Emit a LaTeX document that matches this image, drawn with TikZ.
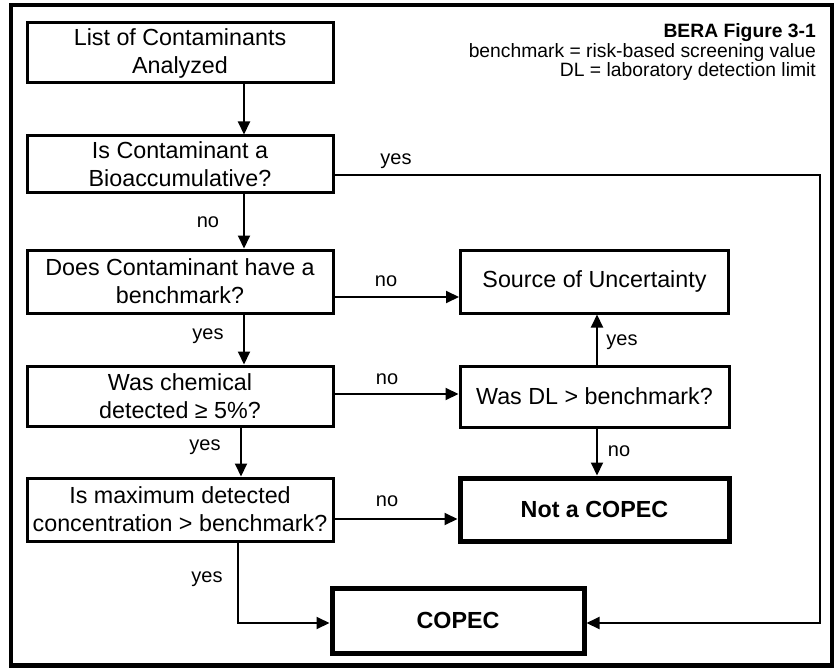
\documentclass[tikz,border=0pt]{standalone}
\usepackage{fontspec}
\setmainfont{Liberation Sans}
\usetikzlibrary{arrows.meta}
\begin{document}
\begin{tikzpicture}[x=1pt,y=-1pt,
  box/.style={draw, line width=3pt, align=center, inner sep=0pt,
    font=\fontsize{23.3}{28}\selectfont},
  endbox/.style={box, line width=5pt, font=\fontsize{23.3}{28}\selectfont\bfseries},
  arr/.style={line width=2pt, -{Triangle[length=13pt,width=12pt]}},
  lbl/.style={inner sep=0pt, font=\fontsize{20}{24}\selectfont},
  leg/.style={inner sep=0pt, anchor=base east, font=\fontsize{19.3}{22}\selectfont},
]
\useasboundingbox (0,0) rectangle (840,671);
\draw[line width=4.5pt] (11,5) rectangle (832,665.5);

% boxes
\node[box, minimum width=306pt, minimum height=60pt] (b1) at (180,53) {List of Contaminants\\Analyzed};
\node[box, minimum width=306pt, minimum height=57pt] (b2) at (180,164.5) {Is Contaminant a\\Bioaccumulative?};
\node[box, minimum width=306pt, minimum height=63pt] (b3) at (180,281.5) {Does Contaminant have a\\benchmark?};
\node[box, minimum width=306pt, minimum height=60pt] (b4) at (180,396) {Was chemical\\detected ≥ 5\%?};
\node[box, minimum width=306pt, minimum height=63pt] (b5) at (180,509.5) {Is maximum detected\\concentration > benchmark?};
\node[box, minimum width=268pt, minimum height=63pt] (src) at (594.5,281.5) {Source of Uncertainty};
\node[box, minimum width=269pt, minimum height=61pt] (dl) at (594.5,396.5) {Was DL > benchmark?};
\node[endbox, minimum width=269pt, minimum height=63pt] (nc) at (594.5,509.5) {Not a COPEC};
\node[endbox, minimum width=252pt, minimum height=65pt] (cop) at (458,620.5) {COPEC};

% legend
\node[leg, font=\fontsize{19.3}{22}\selectfont\bfseries] (l1) at (816,38) {BERA Figure 3-1};
\node[leg] (l2) at (816,57.5) {benchmark = risk-based screening value};
\node[leg] (l3) at (816,77) {DL = laboratory detection limit};

% helper coordinates
\coordinate (cx) at (244,0);
\coordinate (cx2) at (241,0);
\coordinate (rx) at (597,0);
\coordinate (ex) at (820,0);
\coordinate (bx) at (238,0);
\coordinate (yy2) at (0,175);
\coordinate (yy3) at (0,297);
\coordinate (yy4) at (0,394);
\coordinate (yy5) at (0,519);
\coordinate (yc) at (0,623);

% connectors
\draw[arr] (b1.south -| cx) -- (b2.north -| cx);
\draw[arr] (b2.south -| cx) -- (b3.north -| cx);
\draw[arr] (b3.south -| cx) -- (b4.north -| cx);
\draw[arr] (b4.south -| cx2) -- (b5.north -| cx2);
\draw[arr] (b3.east |- yy3) -- (src.west |- yy3);
\draw[arr] (b4.east |- yy4) -- (dl.west |- yy4);
\draw[arr] (b5.east |- yy5) -- (nc.west |- yy5);
\draw[arr] (dl.north -| rx) -- (src.south -| rx);
\draw[arr] (dl.south -| rx) -- (nc.north -| rx);
\draw[arr] (b5.south -| bx) |- (cop.west |- yc);
\draw[arr] (b2.east |- yy2) -| (ex |- yc) -- (cop.east |- yc);

% labels
\node[lbl] (t1) at (396,161) {yes};
\node[lbl] (t2) at (208,222) {no};
\node[lbl] (t3) at (386,281) {no};
\node[lbl] (t4) at (208,336) {yes};
\node[lbl] (t5) at (387,379) {no};
\node[lbl] (t6) at (205,447) {yes};
\node[lbl] (t7) at (387,501) {no};
\node[lbl] (t8) at (207,579) {yes};
\node[lbl] (t9) at (622,342) {yes};
\node[lbl] (t10) at (619,451) {no};
\end{tikzpicture}
\end{document}
